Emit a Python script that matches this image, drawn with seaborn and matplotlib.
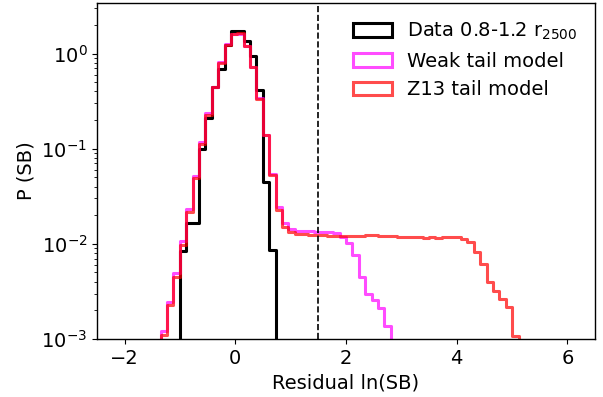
import numpy as np
import pandas as pd
import matplotlib
matplotlib.use("Agg")
import matplotlib.pyplot as plt
from matplotlib.patches import Patch
import seaborn as sns

# ---- data ----
bin_start = -1.4655
bin_width = 0.1155
n_bins = 58  # includes one empty bin at each end

data_vals = [0, 0, 0, 0, 8.5e-3, 0.0167, 0.0167, 0.100, 0.210, 0.44, 0.69, 1.24,
             1.72, 1.72, 1.35, 0.95, 0.41, 0.045, 0.0086] + [0] * 39

weak_vals = [0, 1.2e-3, 2.45e-3, 4.9e-3, 0.0106, 0.0235, 0.052, 0.118, 0.235, 0.45,
             0.81, 1.25, 1.60, 1.60, 1.20, 0.72, 0.34, 0.14, 0.054, 0.0245,
             0.0164, 0.0142, 0.0138, 0.0136, 0.0135, 0.0134, 0.0133, 0.0132, 0.0130,
             0.0119, 0.0103, 7.6e-3, 4.5e-3, 3.0e-3, 2.57e-3, 2.11e-3, 1.36e-3] + [0] * 21

z13_vals = [0, 1.1e-3, 2.25e-3, 4.5e-3, 0.0098, 0.0215, 0.049, 0.111, 0.227, 0.443,
            0.792, 1.24, 1.62, 1.64, 1.21, 0.719, 0.334, 0.138, 0.0525, 0.0225,
            0.0150, 0.0133, 0.0128, 0.0126, 0.0125, 0.0124, 0.0123, 0.0122, 0.0122,
            0.0120, 0.0121, 0.0120, 0.0121, 0.0123, 0.0124, 0.0121, 0.0120, 0.0121,
            0.0119, 0.0118, 0.0119, 0.0117, 0.0116, 0.0117, 0.0115, 0.0118, 0.0119,
            0.0118, 0.0112, 0.0105, 8.2e-3, 6.2e-3, 4.0e-3, 3.2e-3, 2.65e-3, 2.15e-3,
            1.08e-3, 0]

labels = ["Data 0.8-1.2 r$_{2500}$", "Weak tail model", "Z13 tail model"]
colors = ["black", "magenta", "red"]
alphas = [1.0, 0.7, 0.7]
cut_value = 1.5

edges = [float(v) for v in bin_start + bin_width * np.arange(n_bins + 1)]
centers = [e + bin_width / 2 for e in edges[:-1]]

plt.rcParams["font.family"] = ["DejaVu Sans"]
plt.rcParams["font.size"] = 14

fig = plt.figure(figsize=(6.03, 3.97), dpi=100)
ax = fig.add_axes([97 / 603, 1 - 339 / 397, (595 - 97) / 603, (339 - 3) / 397])

for vals, c, a, lab in zip([data_vals, weak_vals, z13_vals], colors, alphas, labels):
    df = pd.DataFrame({"x": centers, "w": vals})
    sns.histplot(data=df, x="x", weights="w", bins=edges, element="step",
                 fill=False, stat="count", color=c, alpha=a, linewidth=2.2, ax=ax)

ax.axvline(cut_value, color="black", linestyle="--", linewidth=1.2)

ax.set_yscale("log")
ax.set_xlim(-2.5, 6.5)
ax.set_ylim(1e-3, 3.4)
ax.set_xticks([-2, 0, 2, 4, 6])
ax.set_xlabel("Residual ln(SB)", fontsize=14)
ax.set_ylabel("P (SB)", fontsize=14)
ax.tick_params(labelsize=14)
for s in ax.spines.values():
    s.set_linewidth(1.0)
    s.set_color("black")

handles = [Patch(facecolor="none", edgecolor=c, alpha=a, linewidth=2.2)
           for c, a in zip(colors, alphas)]
ax.legend(handles, labels, loc="upper right", frameon=False, fontsize=14)

fig.savefig("out.png", dpi=100)
